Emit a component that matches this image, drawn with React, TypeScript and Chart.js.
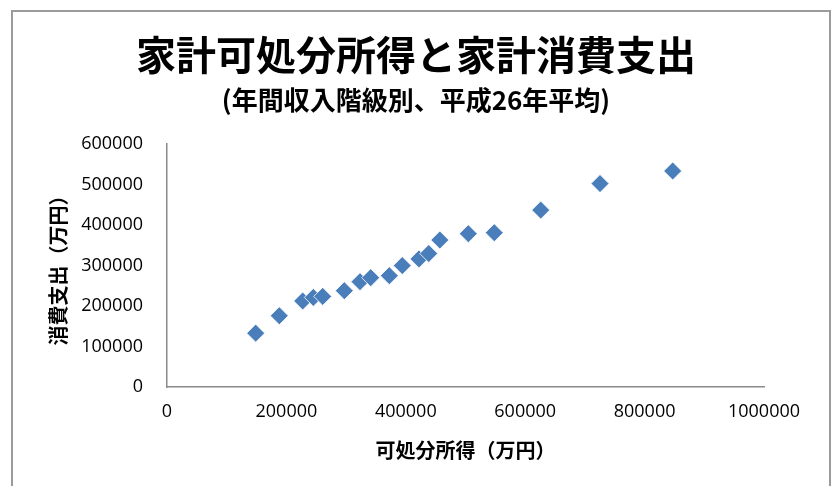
import { useEffect, useRef } from "react";
import { Chart, registerables } from "chart.js";

Chart.register(...registerables);

// Disposable income (x) and consumption expenditure (y), by annual income class
const disposableIncome = [148600, 188100, 227300, 245100, 260800, 297000, 323300, 341200, 372400, 394100, 422100, 438400, 457000, 504700, 548200, 626000, 725300, 847100];
const consumption = [133100, 176000, 212500, 221400, 223900, 238000, 260300, 270200, 275200, 300000, 316600, 329800, 363200, 378900, 381300, 437100, 502600, 533800];

const xTickValues = [0, 200000, 400000, 600000, 800000, 1000000];
const yTickValues = [0, 100000, 200000, 300000, 400000, 500000, 600000];

const titleText = "家計可処分所得と家計消費支出";
const subtitleText = "(年間収入階級別、平成26年平均)";
const xTitle = "可処分所得（万円）";
const yTitle = "消費支出（万円）";

const CJK = "'Noto Sans CJK JP', 'Noto Sans', sans-serif";
const NUM = "'Open Sans', 'Noto Sans', sans-serif";

const outerBorder = {
  id: "outerBorder",
  beforeDraw(chart: any) {
    const ctx = chart.ctx;
    ctx.save();
    ctx.fillStyle = "#ffffff";
    ctx.fillRect(0, 0, chart.width, chart.height);
    ctx.strokeStyle = "#9b9b9b";
    ctx.lineWidth = 2;
    ctx.strokeRect(12, 11, 818, 600);
    ctx.restore();
  },
};

export default function App() {
  const ref = useRef<HTMLCanvasElement | null>(null);

  useEffect(() => {
    if (!ref.current) return;
    const points = disposableIncome.map((x, i) => ({ x, y: consumption[i] }));
    const chart = new Chart(ref.current, {
      type: "scatter",
      data: {
        datasets: [
          {
            label: "消費支出",
            data: points,
            pointStyle: "rectRot",
            pointRadius: 9,
            backgroundColor: "#4a7ebb",
            borderColor: "#ffffff",
            borderWidth: 0.8,
          },
        ],
      },
      options: {
        responsive: false,
        animation: false,
        layout: { padding: { left: 0, right: 0, top: 0, bottom: 0 } },
        plugins: {
          legend: { display: false },
          tooltip: { enabled: false },
          title: {
            display: true,
            text: titleText,
            color: "#000000",
            font: { family: CJK, size: 40, weight: "bold", lineHeight: 1.2 },
            padding: { top: 31, bottom: 3 },
          },
          subtitle: {
            display: true,
            text: subtitleText,
            color: "#000000",
            font: { family: CJK, size: 26, weight: "bold", lineHeight: 1.2 },
            padding: { top: 3, bottom: 28 },
          },
        },
        scales: {
          x: {
            type: "linear",
            min: 0,
            max: 1000000,
            afterBuildTicks: (s: any) => {
              s.ticks = xTickValues.map((v) => ({ value: v }));
            },
            afterFit: (s: any) => {
              s.height = 99;
            },
            ticks: {
              color: "#000000",
              font: { family: NUM, size: 18 },
              padding: 14,
              callback: (v: any) => String(v),
            },
            grid: { display: false, drawTicks: false },
            border: { display: true, color: "#8a8a8a", width: 1.5 },
            title: {
              display: true,
              text: xTitle,
              color: "#000000",
              font: { family: CJK, size: 20, weight: "bold", lineHeight: 1.2 },
              padding: { top: 0, bottom: 24 },
            },
          },
          y: {
            type: "linear",
            min: 0,
            max: 600000,
            afterBuildTicks: (s: any) => {
              s.ticks = yTickValues.map((v) => ({ value: v }));
            },
            afterFit: (s: any) => {
              s.width = 167;
            },
            ticks: {
              color: "#000000",
              font: { family: NUM, size: 18 },
              padding: 24,
              callback: (v: any) => String(v),
            },
            grid: { display: false, drawTicks: false },
            border: { display: true, color: "#8a8a8a", width: 1.5 },
            title: {
              display: true,
              text: yTitle,
              color: "#000000",
              font: { family: CJK, size: 20, weight: "bold", lineHeight: 1.2 },
              padding: { top: 46, bottom: 0 },
            },
          },
          yRightSpace: {
            type: "linear",
            position: "right",
            min: 0,
            max: 600000,
            display: true,
            ticks: { display: false },
            grid: { display: false, drawTicks: false },
            border: { display: false },
            title: { display: false },
            afterFit: (s: any) => {
              s.width = 68;
            },
          },
        },
      },
      plugins: [outerBorder],
    });
    return () => chart.destroy();
  }, []);

  return (
    <div style={{ position: "fixed", left: 0, top: 0, width: 832, height: 486, background: "#fff" }}>
      <canvas ref={ref} width={832} height={486} style={{ width: 832, height: 486, display: "block" }} />
    </div>
  );
}
